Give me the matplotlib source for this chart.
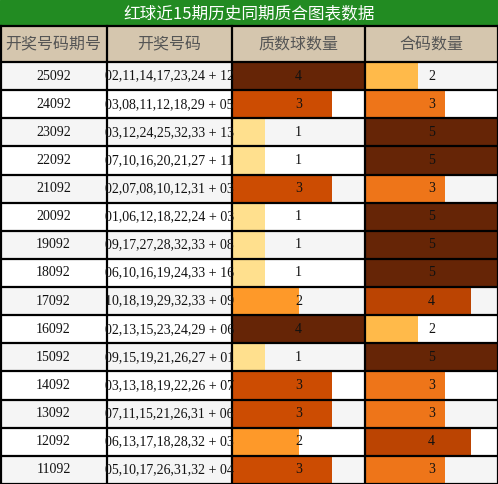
import matplotlib
matplotlib.use("Agg")
import matplotlib.pyplot as plt
from matplotlib.patches import Rectangle

periods = ["25092","24092","23092","22092","21092","20092","19092","18092","17092","16092","15092","14092","13092","12092","11092"]
numbers = ["02,11,14,17,23,24 + 12","03,08,11,12,18,29 + 05","03,12,24,25,32,33 + 13","07,10,16,20,21,27 + 11",
           "02,07,08,10,12,31 + 03","01,06,12,18,22,24 + 03","09,17,27,28,32,33 + 08","06,10,16,19,24,33 + 16",
           "10,18,19,29,32,33 + 09","02,13,15,23,24,29 + 06","09,15,19,21,26,27 + 01","03,13,18,19,22,26 + 07",
           "07,11,15,21,26,31 + 06","06,13,17,18,28,32 + 03","05,10,17,26,31,32 + 04"]
prime = [4,3,1,1,3,1,1,1,2,4,1,3,3,2,3]
composite = [2,3,5,5,3,5,5,5,4,2,5,3,3,4,3]
headers = ["开奖号码期号","开奖号码","质数球数量","合码数量"]
title = "红球近15期历史同期质合图表数据"

prime_colors = {1:"#FFE08E",2:"#FE9929",3:"#CC4C02",4:"#662506"}
comp_colors = {2:"#FFBA4A",3:"#EE7519",4:"#BB4402",5:"#662506"}

W,H = 498,484
fig = plt.figure(figsize=(W/100,H/100),dpi=100)
ax = fig.add_axes([0,0,1,1])
ax.set_xlim(0,W); ax.set_ylim(H,0); ax.axis("off")
cjk = ["Noto Sans CJK SC","DejaVu Sans"]
serif = "Liberation Serif"

cols = [0,107,232,365,498]
title_h = 26; head_b = 62
rh = (H-head_b)/15

ax.add_patch(Rectangle((0,0),W,title_h,color="#228B22"))
ax.text(W/2,title_h/2+1,title,ha="center",va="center",color="white",fontsize=12,family=cjk)
ax.add_patch(Rectangle((0,title_h),W,head_b-title_h,color="#D5C6AE"))
for i,h in enumerate(headers):
    ax.text((cols[i]+cols[i+1])/2,(title_h+head_b)/2,h,ha="center",va="center",color="#555555",fontsize=11.5,family=cjk)

ys = [head_b+rh*i for i in range(15)]
for i in range(15):
    ax.add_patch(Rectangle((0,ys[i]),W,rh,color="#F5F5F5" if i%2==0 else "white"))
cw = cols[3]-cols[2]
ax.barh([y+rh/2 for y in ys],[p/4*cw for p in prime],height=rh,left=cols[2],
        color=[prime_colors[p] for p in prime],edgecolor="none")
ax.barh([y+rh/2 for y in ys],[c/5*cw for c in composite],height=rh,left=cols[3],
        color=[comp_colors[c] for c in composite],edgecolor="none")
for i in range(15):
    yc = ys[i]+rh/2
    ax.text((cols[0]+cols[1])/2,yc,periods[i],ha="center",va="center",fontsize=10,family=serif,color="#111111")
    ax.text((cols[1]+cols[2])/2,yc,numbers[i],ha="center",va="center",fontsize=10,family=serif,color="#111111")
    ax.text((cols[2]+cols[3])/2,yc,str(prime[i]),ha="center",va="center",fontsize=10,family=serif,color="#111111")
    ax.text((cols[3]+cols[4])/2,yc,str(composite[i]),ha="center",va="center",fontsize=10,family=serif,color="#111111")

lw=1.6
ax.plot([0,W],[title_h,title_h],color="black",lw=lw)
ax.plot([0,W],[head_b,head_b],color="black",lw=lw)
for y in ys[1:]:
    ax.plot([0,W],[y,y],color="black",lw=lw)
ax.plot([0,W],[H-0.5,H-0.5],color="black",lw=lw)
for x in cols:
    xx = min(max(x,0.5),W-0.5)
    ax.plot([xx,xx],[title_h,H],color="black",lw=lw)
fig.savefig("out.png",dpi=100)
